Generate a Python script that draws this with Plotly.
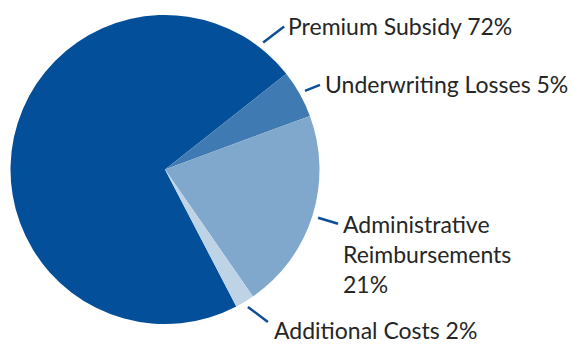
import math
import plotly.graph_objects as go

labels = ["Premium Subsidy", "Underwriting Losses", "Administrative Reimbursements", "Additional Costs"]
values = [72, 5, 21, 2]
label_texts = ["Premium Subsidy 72%", "Underwriting Losses 5%",
               "Administrative<br>Reimbursements<br>21%", "Additional Costs 2%"]
colors = ["#034f9a", "#3f7bb2", "#80a7cc", "#bfd3e6"]

W, H = 575, 345
ROT = 152.5
# pie placement in pixels
CX, CY, R = 165, 169.5, 154.5

# styling for leader lines: angle offset (deg) relative to slice mid (or anchor), line vector, text offset
leader_anchor = ["end", "mid", "mid", "mid"]
leader_angle_off = [-14, 0, 0, 0]
leader_vec = [(21, -16), (15, -6), (20, 6), (20, 15)]
text_off = [(2, -1), (3, -1), (3, -16), (4, 8)]
text_yanchor = ["middle", "middle", "top", "middle"]

fig = go.Figure(go.Pie(
    labels=labels, values=values, sort=False, direction="clockwise",
    rotation=ROT, marker=dict(colors=colors, line=dict(width=0)),
    textinfo="none", hoverinfo="label+percent", showlegend=False,
    domain=dict(x=[(CX - R) / W, (CX + R) / W], y=[1 - (CY + R) / H, 1 - (CY - R) / H]),
))

def px(x, y):
    return x / W, 1 - y / H

total = sum(values)
cum = 0
shapes, annotations = [], []
for i, v in enumerate(values):
    start = ROT + 360 * cum / total
    end = ROT + 360 * (cum + v) / total
    cum += v
    base = end if leader_anchor[i] == "end" else (start + end) / 2
    a = math.radians(base + leader_angle_off[i])
    r0 = R + 6
    x0 = CX + r0 * math.sin(a)
    y0 = CY - r0 * math.cos(a)
    x1 = x0 + leader_vec[i][0]
    y1 = y0 + leader_vec[i][1]
    p0, p1 = px(x0, y0), px(x1, y1)
    shapes.append(dict(type="line", xref="paper", yref="paper", x0=p0[0], y0=p0[1],
                       x1=p1[0], y1=p1[1], line=dict(color="#0d4f97", width=2.5)))
    tp = px(x1 + text_off[i][0], y1 + text_off[i][1])
    annotations.append(dict(text=label_texts[i], x=tp[0], y=tp[1], xref="paper", yref="paper",
                            xanchor="left", yanchor=text_yanchor[i], align="left",
                            showarrow=False, font=dict(size=23, color="#262626", family="Lato")))

fig.update_layout(width=W, height=H, margin=dict(l=0, r=0, t=0, b=0),
                  paper_bgcolor="white", plot_bgcolor="white",
                  shapes=shapes, annotations=annotations)
fig.write_html("out.html")
